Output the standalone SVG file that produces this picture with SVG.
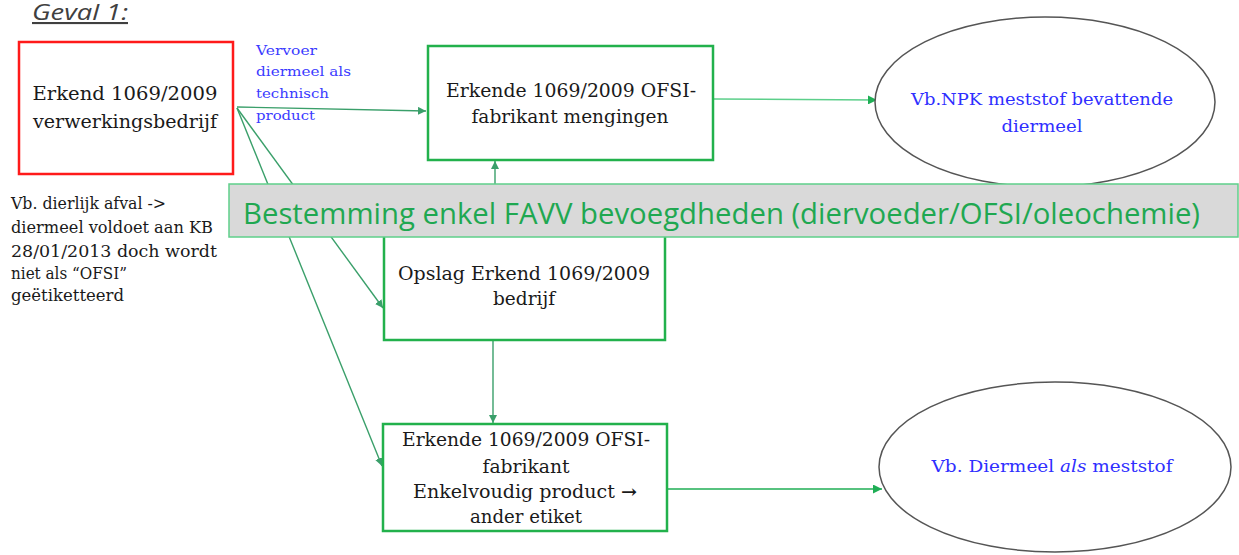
<svg xmlns="http://www.w3.org/2000/svg" width="1239" height="555" viewBox="0 0 1239 555">
<defs>
<style>
.box{fill:#ffffff;stroke:#22b14c;stroke-width:2.5}
.red{fill:#ffffff;stroke:#ff1a1a;stroke-width:2.5}
.ell{fill:#ffffff;stroke:#555555;stroke-width:1.5}
.t{font-family:"DejaVu Serif","Liberation Serif",serif;font-size:18px;fill:#1a1a1a;text-anchor:middle}
.tl{font-family:"DejaVu Serif","Liberation Serif",serif;font-size:16px;fill:#1a1a1a}
.blue{font-family:"DejaVu Serif","Liberation Serif",serif;font-size:13.5px;fill:#3b3bff}
.bt{font-family:"DejaVu Serif","Liberation Serif",serif;font-size:17px;fill:#2f2fff;text-anchor:middle}
.con{stroke:#3a9f6a;stroke-width:1.4;fill:none}
</style>
<marker id="arr" viewBox="0 0 10 10" refX="10" refY="5" markerWidth="8" markerHeight="8" markerUnits="userSpaceOnUse" orient="auto">
<path d="M0,0 L10,5 L0,10 z" fill="#3a9f6a"/>
</marker>
<marker id="arrg" viewBox="0 0 10 10" refX="10" refY="5" markerWidth="9" markerHeight="9" markerUnits="userSpaceOnUse" orient="auto">
<path d="M0,0 L10,5 L0,10 z" fill="#1fae55"/>
</marker>
</defs>
<rect width="1239" height="555" fill="#ffffff"/>

<text x="32" y="20" font-family="'Open Sans','Liberation Sans',sans-serif" font-style="italic" font-size="21" fill="#404040" text-decoration="underline" textLength="96" lengthAdjust="spacingAndGlyphs">Geval 1:</text>

<g id="connectors">
<line class="con" x1="237" y1="107" x2="426" y2="111" marker-end="url(#arr)"/>
<line class="con" x1="237" y1="108" x2="383" y2="308" marker-end="url(#arr)"/>
<line class="con" x1="237" y1="108" x2="382" y2="466" marker-end="url(#arr)"/>
<line class="con" x1="493" y1="341" x2="493" y2="423" marker-end="url(#arr)"/>
<line class="con" x1="495" y1="262" x2="495" y2="161" marker-end="url(#arr)"/>
<line x1="714" y1="99" x2="877" y2="100" stroke="#5ccf8a" stroke-width="1.6" marker-end="url(#arrg)"/>
<line x1="668" y1="489" x2="882" y2="489" stroke="#1fae55" stroke-width="1.4" marker-end="url(#arrg)"/>
</g>

<g id="label-vervoer">
<text class="blue" x="256" y="55" textLength="61" lengthAdjust="spacingAndGlyphs">Vervoer</text>
<text class="blue" x="256" y="76" textLength="95" lengthAdjust="spacingAndGlyphs">diermeel als</text>
<text class="blue" x="256" y="98" textLength="73" lengthAdjust="spacingAndGlyphs">technisch</text>
<text class="blue" x="256" y="120" textLength="59" lengthAdjust="spacingAndGlyphs">product</text>
</g>

<g id="node-verwerkingsbedrijf">
<rect class="red" x="19" y="42" width="214" height="132"/>
<text class="t" x="125" y="100" textLength="185" lengthAdjust="spacingAndGlyphs">Erkend 1069/2009</text>
<text class="t" x="125" y="128" textLength="184" lengthAdjust="spacingAndGlyphs">verwerkingsbedrijf</text>
</g>

<g id="note-left">
<text class="tl" x="11" y="209" textLength="155" lengthAdjust="spacingAndGlyphs">Vb. dierlijk afval -&gt;</text>
<text class="tl" x="11" y="233" textLength="202" lengthAdjust="spacingAndGlyphs">diermeel voldoet aan KB</text>
<text class="tl" x="11" y="257" textLength="206" lengthAdjust="spacingAndGlyphs">28/01/2013 doch wordt</text>
<text class="tl" x="11" y="279" textLength="116" lengthAdjust="spacingAndGlyphs">niet als “OFSI”</text>
<text class="tl" x="11" y="301" textLength="113" lengthAdjust="spacingAndGlyphs">geëtiketteerd</text>
</g>

<g id="node-mengingen">
<rect class="box" x="428" y="46" width="285" height="114"/>
<text class="t" x="571" y="97" textLength="250" lengthAdjust="spacingAndGlyphs">Erkende 1069/2009 OFSI-</text>
<text class="t" x="570" y="123" textLength="197" lengthAdjust="spacingAndGlyphs">fabrikant mengingen</text>
</g>

<g id="node-npk">
<ellipse class="ell" cx="1045" cy="102" rx="170" ry="85"/>
<text class="bt" x="1042" y="105" textLength="262" lengthAdjust="spacingAndGlyphs">Vb.NPK meststof bevattende</text>
<text class="bt" x="1042" y="132" textLength="81" lengthAdjust="spacingAndGlyphs">diermeel</text>
</g>

<g id="node-opslag">
<rect class="box" x="384" y="186" width="281" height="154"/>
<text class="t" x="524" y="280" textLength="252" lengthAdjust="spacingAndGlyphs">Opslag Erkend 1069/2009</text>
<text class="t" x="524" y="305" textLength="62" lengthAdjust="spacingAndGlyphs">bedrijf</text>
</g>

<g id="node-enkelvoudig">
<rect class="box" x="383" y="424" width="284" height="107"/>
<text class="t" x="526" y="446" textLength="248" lengthAdjust="spacingAndGlyphs">Erkende 1069/2009 OFSI-</text>
<text class="t" x="526" y="473" textLength="87" lengthAdjust="spacingAndGlyphs">fabrikant</text>
<text class="t" x="525" y="498" textLength="224" lengthAdjust="spacingAndGlyphs">Enkelvoudig product <tspan font-weight="bold">→</tspan></text>
<text class="t" x="526" y="523" textLength="112" lengthAdjust="spacingAndGlyphs">ander etiket</text>
</g>

<g id="node-diermeel">
<ellipse class="ell" cx="1055" cy="467" rx="176" ry="85"/>
<text class="bt" x="1052" y="472" textLength="241" lengthAdjust="spacingAndGlyphs">Vb. Diermeel <tspan font-style="italic">als</tspan> meststof</text>
</g>

<g id="banner">
<rect x="229" y="184" width="1009" height="53" fill="#d9d9d9" stroke="#5fcf8a" stroke-width="1.5"/>
<text x="243" y="224" font-family="'Open Sans','Liberation Sans',sans-serif" font-size="29" fill="#1fa851" textLength="957" lengthAdjust="spacingAndGlyphs">Bestemming enkel FAVV bevoegdheden (diervoeder/OFSI/oleochemie)</text>
</g>
</svg>
